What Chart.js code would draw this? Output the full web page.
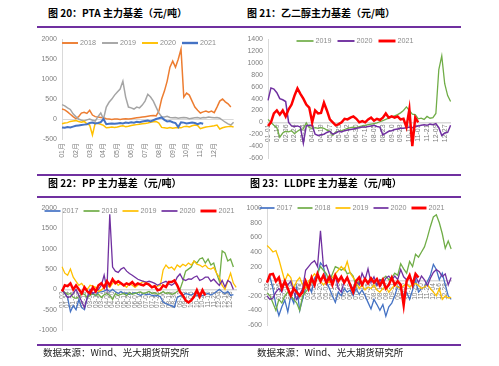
<!DOCTYPE html>
<html>
<head>
<meta charset="utf-8">
<script src="https://cdn.jsdelivr.net/npm/chart.js@4/dist/chart.umd.min.js"></script>
<style>
  body { margin: 0; width: 499px; height: 366px; background: #fff; position: relative; overflow: hidden; font-family: "Noto Sans CJK SC", sans-serif; }
  .title { position: absolute; font-size: 10px; font-weight: bold; color: #000; line-height: 12px; white-space: nowrap; }
  .rule { position: absolute; left: 37px; width: 424px; height: 2px; background: #7030A0; }
  .source { position: absolute; font-size: 9.5px; color: #222; line-height: 12px; white-space: nowrap; }
  canvas { position: absolute; }
</style>
</head>
<body>
<div class="title" style="left:48px;top:7px">图 20：PTA 主力基差（元/吨）</div>
<div class="title" style="left:247px;top:7px">图 21：乙二醇主力基差（元/吨）</div>
<div class="rule" style="top:26px"></div>
<canvas id="pta" width="210" height="145" style="left:36px;top:30px"></canvas>
<canvas id="meg" width="216" height="145" style="left:245px;top:30px"></canvas>
<div class="rule" style="top:174px"></div>
<div class="title" style="left:48px;top:177px">图 22：PP 主力基差（元/吨）</div>
<div class="title" style="left:250px;top:177px">图 23：LLDPE 主力基差（元/吨）</div>
<div class="rule" style="top:196px"></div>
<canvas id="pp" width="210" height="146" style="left:36px;top:199px"></canvas>
<canvas id="lldpe" width="216" height="146" style="left:245px;top:199px"></canvas>
<div class="rule" style="top:344px"></div>
<div class="source" style="left:43px;top:346px">数据来源：Wind、光大期货研究所</div>
<div class="source" style="left:257px;top:346px">数据来源：Wind、光大期货研究所</div>

<script>
// tick labels
const ptaTicks = ['01月', '02月', '03月', '04月', '05月', '06月', '07月', '08月', '09月', '10月', '11月', '12月'];
const megTicks = ['01-01', '01-19', '02-06', '02-24', '03-14', '04-01', '04-19', '05-07', '05-25', '06-12', '06-30',
  '07-18', '08-05', '08-23', '09-10', '09-28', '10-16', '11-03', '11-21', '12-09', '12-27'];
const ppTicks = ['01-02', '01-14', '01-26', '02-07', '02-19', '03-03', '03-15', '03-27', '04-08', '04-20', '05-02',
  '05-14', '05-26', '06-07', '06-19', '07-01', '07-13', '07-25', '08-06', '08-18', '08-30', '09-11', '09-23',
  '10-05', '10-17', '10-29', '11-10', '11-22', '12-04', '12-16', '12-28'];
const lldpeTicks = ppTicks;

// PTA
const pta2018 = [250, 230, 180, 120, 60, 10, 60, 150, 170, 140, 220, 100, 60, 50, 40, 30, 10, 0, -10, 0,
  0, -10, 0, 10, 0, 10, 20, 30, 40, 50, 60, 70, 80, 90, 80, 200, 500, 700, 950, 1300,
  1450, 1300, 1500, 1750, 550, 650, 600, 450, 300, 220, 150, 180, 200, 170, 200, 160, 300, 450, 500, 430,
  380, 300, null];
const pta2019 = [360, 330, 280, 240, 130, 60, 0, -30, -50, -20, 0, -30, -50, 60, 150, 0, 300, 420, 500, 600,
  680, 750, 950, 550, 300, 280, 250, 300, 280, 350, 450, 620, 550, 450, 300, 150, 60, 50, 70, 40,
  30, 40, 20, 30, 40, 30, 10, 20, 30, 40, 20, 40, 30, 50, 40, 30, 40, 20, -30, -80,
  -120, -150, -80];
const pta2020 = [-120, -100, -90, -60, -50, -40, -60, -80, -60, -120, -150, -400, -100, -110, -130, -160, -220, -210, -200, -210,
  -200, -180, -170, -190, -180, -160, -150, -140, -130, -120, -110, -100, -80, -70, -60, -100, -210, -220, -230, -210,
  -230, -220, -210, -220, -190, -180, -200, -170, -150, -160, -240, -220, -200, -190, -180, -170, -150, -250, -220, -200,
  -190, -180, -200];
const pta2021 = [-210, -220, -200, -210, -190, -170, -160, -150, -140, -130, -100, -90, -110, -100, -80, 0, -130, -120, -110, -120,
  -110, -100, -110, -90, -100, -80, -90, -70, -80, -60, -50, -40, -60, -30, 0, 20, 40, -20, -60, -50,
  -80, -100, -200, -80, -90, -110, -100, -90, -100, -130, -100, -120, null, null, null, null, null, null, null, null,
  null, null, null];

// 乙二醇
const meg2019 = [50, 0, -50, -90, -250, -180, -150, -160, -140, -190, -150, -120, -110, -10, -90, -100, -90, -100, -90, -100,
  -130, -150, -220, -160, -150, -140, -120, -100, -90, -80, -90, -70, -60, -50, -40, -30, -20, -10, 10, 30,
  50, 70, 90, 110, 130, 160, 200, 260, 200, 140, 130, 60, 70, 50, 100, 70, 80, 150, 890, 1120,
  650, 450, 350];
const meg2020 = [370, 580, 560, 500, 400, 380, 350, 0, -60, -70, -60, -80, -350, -60, -50, -50, -200, -220, -210, -200,
  -170, -150, -200, -180, -150, -160, -140, -130, -120, -110, -100, -90, -80, -80, -70, -60, -50, -70, -80, -210,
  -180, -150, -140, -120, -110, -100, -100, -90, -80, -90, -70, -60, -50, -40, -50, -30, -40, -20, -90, -220,
  -180, -170, -50];
const meg2021 = [-60, 0, 150, 200, 130, 200, 100, 220, 300, 450, 570, 480, 400, 300, 250, 0, 200, 150, 160, 330,
  200, 50, 0, -50, -30, 0, 60, 50, 80, 100, 60, 0, 20, 0, 50, 80, 30, 60, 40, 80,
  150, 80, 100, 80, 100, 50, 60, -80, 220, -400, 80, 0, null, null, null, null, null, null, null, null,
  null, null, null];

// PP
const pp2017 = [0, -100, -200, -550, -400, -500, -250, -450, -500, -200, -100, -120, -150, -50, -60, -40, 0, -50, 0, -60,
  -100, -50, -100, -90, -120, -100, -80, -120, -150, -100, -130, -120, -150, -160, -150, -180, -310, -350, -380, -400,
  -440, -200, -160, -150, -100, -120, -140, -100, -150, -130, -160, -120, -100, -140, -100, -50, 0, -60, -100, -50,
  -150, -130, null];
const pp2018 = [0, -80, -120, -100, -200, -220, -180, -100, -120, -200, -150, -100, -150, -120, -200, -130, -100, -150, -250, -100,
  -150, -120, -100, -150, -80, -120, -100, -80, -60, -100, -80, -50, -100, -80, -120, -100, -50, -100, -80, -120,
  -100, -50, 0, 200, 450, 500, 550, 700, 650, 750, 780, 650, 750, 600, 650, 400, 200, 950, 900, 700,
  750, 550, null];
const pp2019 = [560, 400, 350, 500, 300, 200, 100, 150, 50, 0, 100, 80, 50, -50, -20, 50, 100, 50, 150, 200,
  100, 150, 100, 50, 150, 100, 50, 100, 150, 200, 150, 100, 50, 60, 80, 100, 480, 600, 520, 550,
  480, 600, 550, 620, 580, 650, 600, 700, 620, 600, 550, 600, 520, 500, 540, 400, 300, 100, 0, 200,
  400, 150, 50];
const pp2020 = [0, -100, -200, -180, -100, 0, -150, -300, -450, -200, 0, -100, -50, 0, 100, 350, 0, 1850, 550, 450,
  420, 500, 540, 450, 390, 350, 300, 250, 220, 200, 180, 200, 180, 150, 100, 140, 170, 200, 140, 100,
  150, 300, 380, 250, 220, 260, 250, 300, 330, 220, 250, 300, 300, 200, 250, 170, 100, 220, 60, 220,
  170, 0, null];
const pp2021 = [-50, 100, 80, 150, 0, 100, 0, -100, 50, -50, -100, 50, -50, 100, 150, 50, 200, 100, 250, 150,
  200, 150, 100, 150, 120, 180, 100, 150, 120, 100, 150, 120, 50, 80, -20, 0, 100, 60, 180, 180,
  220, 100, -60, -150, -270, -320, -270, -180, -20, -180, -20, -150, null, null, null, null, null, null, null, null,
  null, null, null];

// LLDPE
const lldpe2017 = [-20, 60, -100, -330, -470, -350, -260, -420, -200, -300, -80, -400, -240, -100, -70, -150, 40, 110, 250, 200,
  0, -100, -200, -290, -150, -200, -100, -150, -120, -200, -100, -180, -120, -200, -290, -380, -250, -320, -400, -320,
  -480, -350, -300, -200, -70, -100, -200, -150, -250, -120, 20, -150, -100, -80, 0, 80, 230, 160, 20, 110,
  -50, -200, -250];
const lldpe2018 = [-160, -200, -300, -400, -250, -300, -200, -150, -200, -250, -300, -400, -200, -150, -100, 0, -50, 100, 200, 150,
  100, 0, 100, 200, 180, 150, 180, 100, 120, 70, -70, 0, -50, 30, -20, 50, 0, -50, 20, 30,
  70, 20, 50, 110, 80, 240, 170, 110, 270, 200, 370, 330, 400, 470, 600, 750, 880, 910, 800, 650,
  450, 550, 440];
const lldpe2019 = [490, 450, 400, 420, 300, 150, 0, 100, 50, -100, 0, 50, -50, -100, 0, 50, 100, 50, 0, -50,
  0, -20, 50, 100, 150, 200, 150, 270, 110, 50, 0, -100, -50, -120, -80, -100, -50, -120, -150, -100,
  -80, -150, -100, -50, -80, -100, -60, -40, -80, -50, -30, -60, -100, -80, -50, -100, -150, -200, -100, -250,
  -200, -230, -220];
const lldpe2020 = [-200, -250, -230, -150, -100, -150, 0, -50, 0, -150, -250, -180, -100, 150, 200, 250, 280, 200, 690, 200,
  220, 100, 0, 80, -100, -150, 0, 50, -50, -100, 0, -50, 110, 20, 170, -20, 60, -60, 20, -30,
  40, 70, 20, 70, 20, 160, 60, 20, 60, -20, 70, -20, 70, 20, -60, 40, 120, 160, 130, 60,
  100, -50, 50];
const lldpe2021 = [-20, 90, 100, 0, 50, -100, 0, -100, -200, -100, -150, -200, -150, 0, -100, 50, -50, 100, 0, 80,
  -20, 60, -50, 80, 0, 60, -20, 50, -50, -150, 0, 50, -50, 30, -30, 40, -20, 30, -60, 20,
  -100, -50, 50, -50, 0, -50, -330, 0, 80, -50, 100, 50, null, null, null, null, null, null, null, null,
  null, null, null];

const POINTS = 63;

function spreadTicks(ticks, every) {
  const out = [];
  for (let i = 0; i < POINTS; i++) {
    out.push(i % every === 0 && ticks[i / every] !== undefined ? ticks[i / every] : '');
  }
  return out;
}

Chart.defaults.font.family = "'Liberation Sans', 'Noto Sans CJK SC', sans-serif";
Chart.defaults.color = '#7f7f7f';

// Excel-style legend: short line + label, sitting inside the top of the plot
const lineLegend = {
  id: 'lineLegend',
  afterDraw(chart, args, o) {
    const ctx = chart.ctx;
    ctx.save();
    ctx.font = "7.2px 'Liberation Sans', sans-serif";
    ctx.textBaseline = 'middle';
    const sets = chart.data.datasets;
    const widths = sets.map(d => o.line + 2 + ctx.measureText(d.label).width);
    const total = widths.reduce((a, b) => a + b, 0) + o.gap * (sets.length - 1);
    let x = o.cx - total / 2;
    sets.forEach((d, i) => {
      ctx.strokeStyle = d.borderColor;
      ctx.lineWidth = d.borderWidth + 0.4;
      ctx.beginPath();
      ctx.moveTo(x, o.cy);
      ctx.lineTo(x + o.line, o.cy);
      ctx.stroke();
      ctx.fillStyle = '#8c8c8c';
      ctx.fillText(d.label, x + o.line + 2, o.cy + 0.5);
      x += widths[i] + o.gap;
    });
    ctx.restore();
  }
};

function drawPanel(id, p) {
  const n = p.series.length;
  new Chart(document.getElementById(id), {
    type: 'line',
    data: {
      labels: p.labels,
      datasets: p.series.map((s, i) => ({
        label: s[0],
        data: s[1],
        borderColor: s[2],
        backgroundColor: s[2],
        borderWidth: s[3],
        pointRadius: 0,
        tension: 0,
        order: n - i
      }))
    },
    options: {
      responsive: false,
      animation: false,
      devicePixelRatio: 1,
      layout: { padding: p.pad },
      plugins: {
        tooltip: { enabled: false },
        legend: { display: false },
        lineLegend: p.legend
      },
      scales: {
        x: {
          position: p.xAtZero ? { y: 0 } : 'bottom',
          grid: { display: false, drawTicks: false },
          border: p.xAtZero ? { display: true, color: '#d9d9d9', width: 1.5 } : { display: false },
          ticks: {
            autoSkip: false,
            minRotation: 90,
            maxRotation: 90,
            padding: p.xPad,
            color: '#7f7f7f',
            font: { size: p.xFont }
          },
          afterFit: p.xAtZero ? undefined : (s) => { s.height = p.xHeight; }
        },
        y: {
          min: p.yMin,
          max: p.yMax,
          grid: {
            drawTicks: false,
            color: (c) => (!p.xAtZero && c.tick && c.tick.value === 0 ? '#d9d9d9' : 'rgba(0,0,0,0)')
          },
          border: { display: true, color: '#d9d9d9', width: 1 },
          ticks: {
            stepSize: p.yStep,
            padding: 5,
            color: '#7f7f7f',
            font: { size: 7 },
            callback: (v) => String(v)
          },
          afterFit: (s) => { s.width = p.yWidth; }
        }
      }
    },
    plugins: [lineLegend]
  });
}

drawPanel('pta', {
  labels: spreadTicks(ptaTicks, 5),
  series: [
    ['2018', pta2018, '#ED7D31', 1.5],
    ['2019', pta2019, '#A5A5A5', 1.5],
    ['2020', pta2020, '#FFC000', 1.5],
    ['2021', pta2021, '#4472C4', 2]
  ],
  yMin: -500, yMax: 2000, yStep: 500,
  pad: { top: 6, right: 9, bottom: 0, left: 0 },
  yWidth: 26, xHeight: 36, xAtZero: false, xFont: 7, xPad: 4,
  legend: { cx: 103, cy: 13, line: 16, gap: 6 }
});

drawPanel('meg', {
  labels: spreadTicks(megTicks, 3),
  series: [
    ['2019', meg2019, '#70AD47', 1.3],
    ['2020', meg2020, '#7030A0', 1.5],
    ['2021', meg2021, '#FF0000', 2.5]
  ],
  yMin: -600, yMax: 1400, yStep: 200,
  pad: { top: 6, right: 4, bottom: 17, left: 0 },
  yWidth: 23, xAtZero: true, xFont: 7, xPad: 2,
  legend: { cx: 110, cy: 11, line: 17, gap: 6 }
});

drawPanel('pp', {
  labels: spreadTicks(ppTicks, 2),
  series: [
    ['2017', pp2017, '#4472C4', 1.3],
    ['2018', pp2018, '#70AD47', 1.3],
    ['2019', pp2019, '#FFC000', 1.3],
    ['2020', pp2020, '#7030A0', 1.3],
    ['2021', pp2021, '#FF0000', 2.5]
  ],
  yMin: -1000, yMax: 2000, yStep: 500,
  pad: { top: 8, right: 9, bottom: 15, left: 0 },
  yWidth: 26, xAtZero: true, xFont: 6.5, xPad: 2,
  legend: { cx: 103.5, cy: 12, line: 16, gap: 5 }
});

drawPanel('lldpe', {
  labels: spreadTicks(lldpeTicks, 2),
  series: [
    ['2017', lldpe2017, '#4472C4', 1.3],
    ['2018', lldpe2018, '#70AD47', 1.3],
    ['2019', lldpe2019, '#FFC000', 1.3],
    ['2020', lldpe2020, '#7030A0', 1.3],
    ['2021', lldpe2021, '#FF0000', 2.5]
  ],
  yMin: -600, yMax: 1000, yStep: 200,
  pad: { top: 6, right: 9, bottom: 20, left: 0 },
  yWidth: 22, xAtZero: true, xFont: 6.5, xPad: 2,
  legend: { cx: 107, cy: 9, line: 15, gap: 5 }
});
</script>
</body>
</html>
